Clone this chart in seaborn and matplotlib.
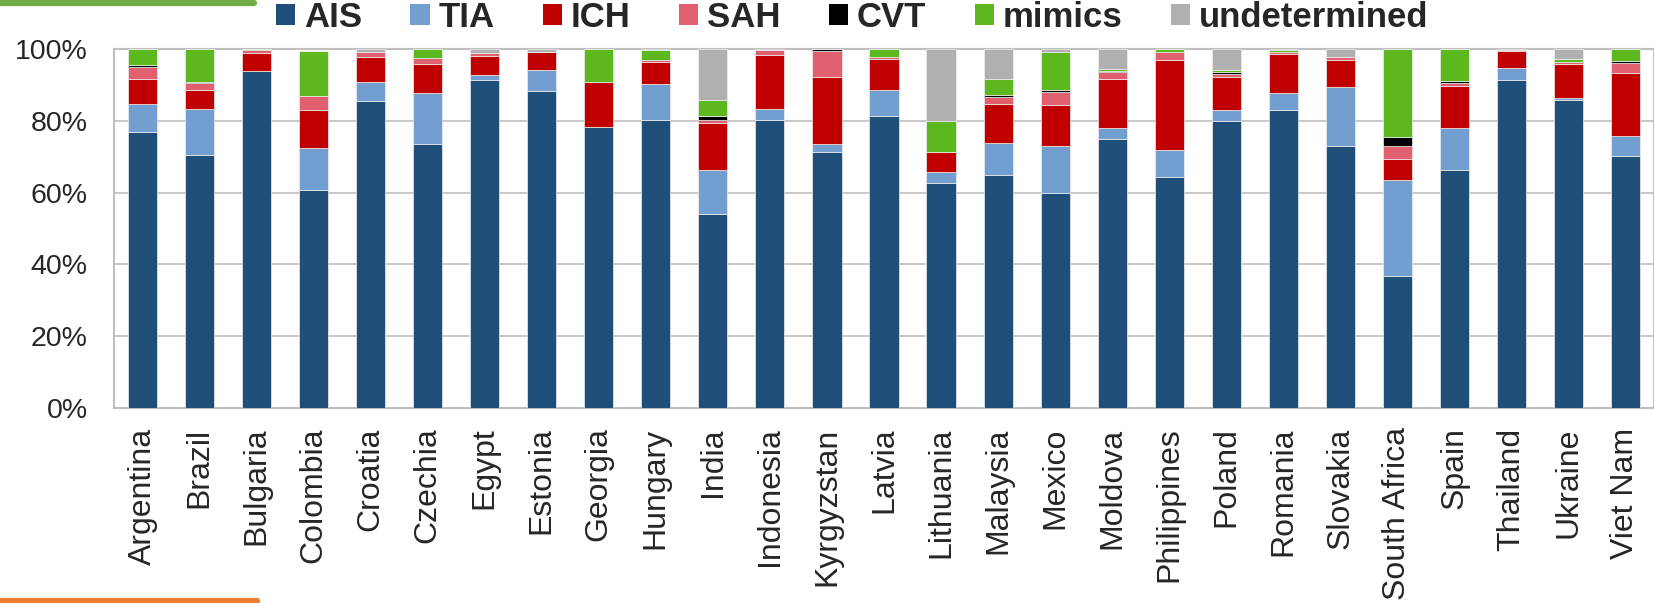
import matplotlib
matplotlib.use("Agg")
import matplotlib.pyplot as plt
import seaborn as sns
import numpy as np
from matplotlib.patches import Patch
from matplotlib.ticker import FuncFormatter

countries = ["Argentina", "Brazil", "Bulgaria", "Colombia", "Croatia", "Czechia", "Egypt",
             "Estonia", "Georgia", "Hungary", "India", "Indonesia", "Kyrgyzstan", "Latvia",
             "Lithuania", "Malaysia", "Mexico", "Moldova", "Philippines", "Poland", "Romania",
             "Slovakia", "South Africa", "Spain", "Thailand", "Ukraine", "Viet Nam"]

ais = [76.9, 70.6, 94.0, 60.6, 85.6, 73.4, 91.4, 88.4, 78.2, 80.3, 54.1, 80.3, 71.4, 81.4,
       62.7, 64.9, 60.0, 74.9, 64.4, 80.0, 83.1, 73.1, 36.8, 66.3, 91.4, 85.8, 70.3]
tia = [7.8, 12.7, 0.0, 11.8, 5.1, 14.4, 1.3, 5.7, 0.0, 9.9, 12.1, 3.0, 2.2, 7.3,
       3.0, 9.0, 13.1, 3.1, 7.4, 2.9, 4.6, 16.3, 26.6, 11.6, 3.3, 0.6, 5.4]
ich = [7.0, 5.4, 5.0, 10.7, 7.1, 7.9, 5.4, 5.2, 12.5, 6.1, 13.2, 15.0, 18.6, 8.5,
       5.7, 10.9, 11.4, 13.7, 25.2, 9.3, 11.0, 7.5, 5.9, 11.8, 4.8, 9.5, 17.7]
sah = [3.4, 1.8, 0.7, 3.9, 1.3, 1.7, 0.7, 0.0, 0.0, 0.7, 0.8, 1.4, 7.3, 0.5,
       0.0, 1.8, 3.4, 2.0, 2.1, 0.9, 0.5, 1.0, 3.7, 0.8, 0.2, 0.4, 2.7]
cvt = [0.4, 0.3, 0.0, 0.0, 0.0, 0.0, 0.0, 0.0, 0.0, 0.0, 1.1, 0.0, 0.5, 0.0,
       0.0, 0.6, 0.8, 0.3, 0.0, 0.5, 0.0, 0.0, 2.6, 0.6, 0.0, 0.0, 0.6]
mimics = [4.5, 9.2, 0.3, 12.5, 0.0, 2.6, 0.0, 0.0, 9.3, 2.6, 4.6, 0.0, 0.0, 2.3,
          8.5, 4.5, 10.6, 0.4, 0.9, 0.6, 0.5, 0.0, 24.4, 8.9, 0.0, 0.9, 3.3]
undetermined = [0.0, 0.0, 0.0, 0.0, 0.9, 0.0, 1.2, 0.7, 0.0, 0.3, 14.1, 0.3, 0.0, 0.0,
                20.1, 8.3, 0.7, 5.6, 0.0, 5.8, 0.3, 2.1, 0.0, 0.0, 0.3, 2.8, 0.0]

series_names = ["AIS", "TIA", "ICH", "SAH", "CVT", "mimics", "undetermined"]
series_values = [ais, tia, ich, sah, cvt, mimics, undetermined]
colors = ["#1F4E79", "#729FCF", "#C00000", "#E06070", "#000000", "#5CB81E", "#B0B0B0"]

sns.set_theme(style="white")
plt.rcParams["font.family"] = ["Liberation Sans", "DejaVu Sans"]

fig = plt.figure(figsize=(16.54, 6.03), dpi=100)
ax = fig.add_axes([114 / 1654, 1 - 408 / 603, (1654 - 114) / 1654, (408 - 49) / 603])

bottom = np.zeros(len(countries))
for name, vals, col in zip(series_names, series_values, colors):
    vals = np.asarray(vals, dtype=float)
    sns.barplot(x=countries, y=vals, bottom=bottom, color=col, width=0.51,
                errorbar=None, ax=ax, edgecolor="#EEEEEE", linewidth=0.5,
                saturation=1, zorder=3)
    bottom = bottom + vals

ax.set_xlim(-0.5, len(countries) - 0.5)
ax.set_ylim(0, 100)
ax.set_yticks([0, 20, 40, 60, 80, 100])
ax.yaxis.set_major_formatter(FuncFormatter(lambda v, p: f"{v:.0f}%"))
ax.grid(axis="y", color="#BFBFBF", linewidth=1.2, zorder=0)
ax.grid(axis="x", visible=False)
for s in ax.spines.values():
    s.set_color("#BFBFBF")
    s.set_linewidth(1.5)
ax.tick_params(axis="y", length=0, pad=19, labelsize=20.5)
ax.tick_params(axis="x", length=0, pad=14, labelsize=23, rotation=90)
ax.set_xlabel("")
ax.set_ylabel("")

handles = [Patch(facecolor=c, edgecolor="none", label=n) for n, c in zip(series_names, colors)]
leg = fig.legend(handles=handles, loc="upper left", bbox_to_anchor=(262 / 1654, 1.022),
                 ncol=7, frameon=False, prop={"weight": "bold", "size": 25},
                 handlelength=0.55, handleheight=0.55, handletextpad=0.25,
                 columnspacing=1.4, borderaxespad=0)

# decorative lines
fig.add_artist(plt.Line2D([0, 254 / 1654], [1 - 3 / 603, 1 - 3 / 603], color="#70AD47",
                          linewidth=4.5, transform=fig.transFigure))
fig.add_artist(plt.Line2D([0, 257 / 1654], [2.5 / 603, 2.5 / 603], color="#ED7D31",
                          linewidth=4.5, transform=fig.transFigure))

fig.savefig("out.png", dpi=100)
